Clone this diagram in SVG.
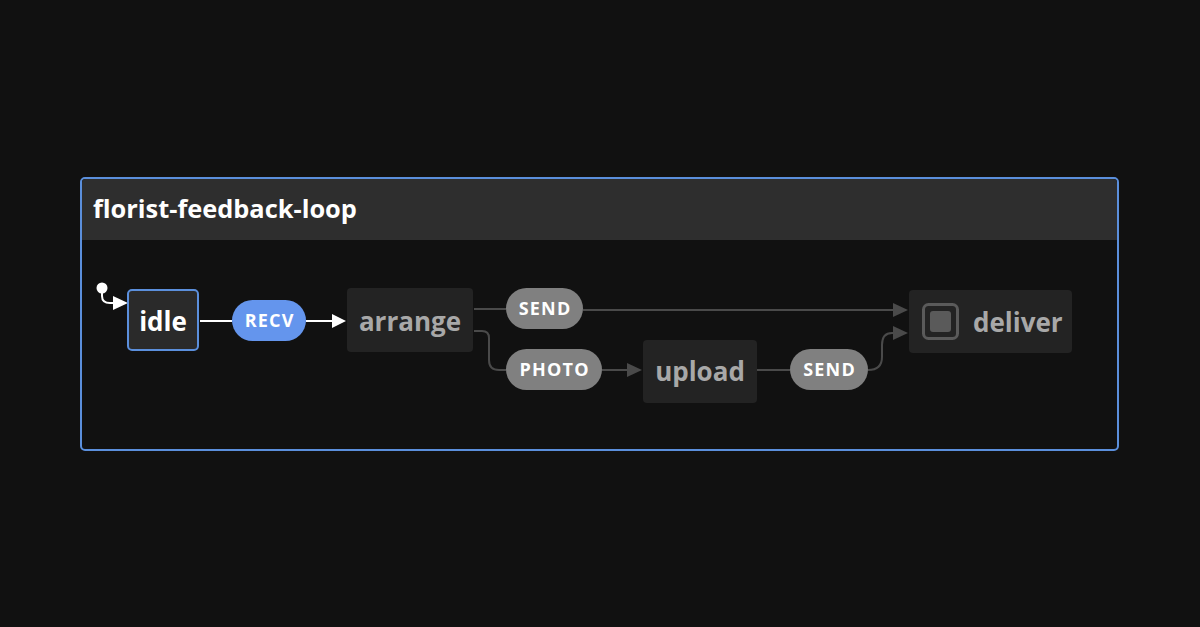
<svg xmlns="http://www.w3.org/2000/svg" width="1200" height="627" viewBox="0 0 1200 627">
<style>
.t{font-family:"Open Sans","Noto Sans",sans-serif;font-weight:700}
.node{fill:#232323}
.ntext{font-size:26px;fill:#a8a8a8}
.pill{fill:#808080}
.ptext{font-size:18px;fill:#fff;letter-spacing:1.2px}
.edge{fill:none;stroke:#4a4a4a;stroke-width:2}
.ah{fill:#4a4a4a}
</style>
<rect width="1200" height="627" fill="#111111"/>
<g id="machine">
<rect x="81" y="178" width="1037" height="272" rx="4" fill="#111111" stroke="#5b8fdc" stroke-width="2"/>
<path d="M82 183 a4 4 0 0 1 4 -4 H1113 a4 4 0 0 1 4 4 V240 H82 Z" fill="#2e2e2e"/>
<text class="t" x="93" y="218" font-size="25.4" fill="#ffffff">florist-feedback-loop</text>
</g>
<g id="connectors">
<circle cx="102" cy="288" r="5.5" fill="#ffffff"/>
<path d="M102 288 V296 Q102 303 110 303 H114" fill="none" stroke="#ffffff" stroke-width="2"/>
<polygon points="113,296 128,303 113,310" fill="#ffffff"/>
<path d="M200 321 H232" stroke="#ffffff" stroke-width="2"/>
<path d="M306 321 H333" stroke="#ffffff" stroke-width="2"/>
<polygon points="332,314 346,321 332,328" fill="#ffffff"/>
<path class="edge" d="M474 309 H506"/>
<path class="edge" d="M583 310 H894"/>
<polygon class="ah" points="893,303 908,310 893,317"/>
<path class="edge" d="M474 331 H482 Q489 331 489 338 V360 Q489 370 499 370 H506"/>
<path class="edge" d="M602 370 H628"/>
<polygon class="ah" points="627,363 642,370 627,377"/>
<path class="edge" d="M757 370 H790"/>
<path class="edge" d="M868 370 Q882 370 882 357 V345 Q882 333 892 333 H894"/>
<polygon class="ah" points="893,326 908,333 893,340"/>
</g>
<g id="idle">
<rect x="128" y="290" width="70" height="60" rx="4" fill="#2a2a2a" stroke="#5b8fdc" stroke-width="2"/>
<text class="t" x="163" y="331" font-size="26" fill="#ffffff" text-anchor="middle">idle</text>
</g>
<g id="recv">
<rect x="232" y="300" width="74" height="41" rx="20.5" fill="#6495ed"/>
<text class="t ptext" x="269.6" y="327" text-anchor="middle">RECV</text>
</g>
<g id="arrange">
<rect class="node" x="347" y="288" width="126" height="64" rx="4"/>
<text class="t ntext" x="410" y="331" text-anchor="middle">arrange</text>
</g>
<g id="send1">
<rect class="pill" x="506" y="288" width="77" height="41" rx="20.5"/>
<text class="t ptext" x="545.1" y="315" text-anchor="middle">SEND</text>
</g>
<g id="photo">
<rect class="pill" x="506" y="349" width="96" height="41" rx="20.5"/>
<text class="t ptext" x="554.6" y="376" text-anchor="middle">PHOTO</text>
</g>
<g id="upload">
<rect class="node" x="643" y="340" width="114" height="63" rx="4"/>
<text class="t ntext" x="700" y="381" text-anchor="middle">upload</text>
</g>
<g id="send2">
<rect class="pill" x="790" y="349" width="78" height="41" rx="20.5"/>
<text class="t ptext" x="829.6" y="376" text-anchor="middle">SEND</text>
</g>
<g id="deliver">
<rect class="node" x="909" y="290" width="163" height="63" rx="4"/>
<rect x="923.5" y="304.5" width="34" height="34" rx="5" fill="none" stroke="#5a5a5a" stroke-width="3"/>
<rect x="930" y="311" width="21" height="21" rx="3" fill="#5a5a5a"/>
<text class="t ntext" x="973" y="332">deliver</text>
</g>
</svg>
